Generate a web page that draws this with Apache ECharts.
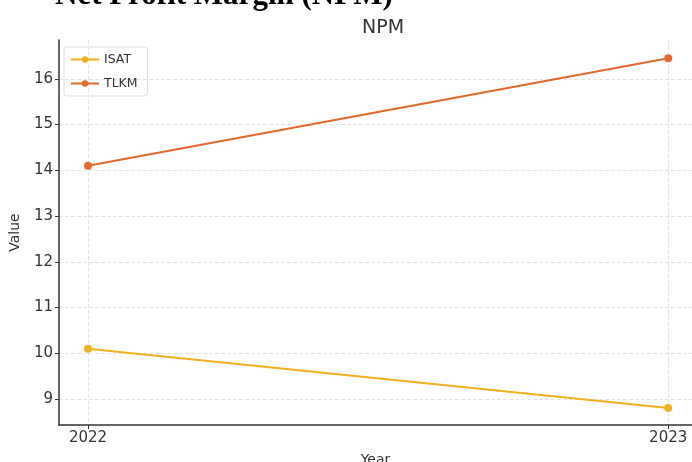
<!DOCTYPE html>
<html>
<head>
<meta charset="utf-8">
<script src="https://cdn.jsdelivr.net/npm/echarts@6/dist/echarts.min.js"></script>
<style>html,body{margin:0;padding:0;background:#fff;}#c{width:692px;height:462px;}</style>
</head>
<body>
<div id="c"></div>
<script>
const years = [2022, 2023];
const isat = [10.1, 8.8];
const tlkm = [14.1, 16.45];
const yTicks = [9, 10, 11, 12, 13, 14, 15, 16];
const seriesNames = ['ISAT', 'TLKM'];
const colors = ['#F2B01E', '#E3692A'];

const chart = echarts.init(document.getElementById('c'), null, {renderer: 'canvas'});
const font = 'DejaVu Sans';
const mk = (name, vals, color) => ({
  name: name,
  type: 'line',
  data: years.map((y, i) => [y, vals[i]]),
  symbol: 'circle',
  symbolSize: 8,
  itemStyle: {color: color},
  lineStyle: {color: color, width: 2},
  animation: false
});
chart.setOption({
  animation: false,
  graphic: [{
    type: 'text', x: 55, y: 11,
    style: {
      text: 'Net Profit Margin (NPM)', fontFamily: 'Liberation Serif', fontSize: 31,
      fontWeight: 'bold', fill: '#000', verticalAlign: 'bottom', align: 'left'
    }
  }],
  title: {
    text: 'NPM', left: 378, top: 14, textAlign: 'center',
    textStyle: {fontFamily: font, fontSize: 19, fontWeight: 'normal', color: '#333'}
  },
  legend: {
    orient: 'vertical', left: 64, top: 47,
    data: seriesNames,
    itemWidth: 28, itemHeight: 8, itemGap: 11,
    padding: [6, 10, 6, 6],
    borderColor: '#ddd', borderWidth: 1, borderRadius: 3,
    textStyle: {fontFamily: font, fontSize: 12.5, color: '#333'}
  },
  grid: {left: 59, right: 0, top: 40, bottom: 37, outerBoundsMode: 'none', containLabel: false},
  xAxis: {
    type: 'value', min: 2021.95, max: 2023.041,
    name: 'Year', nameLocation: 'middle', nameGap: 28,
    nameTextStyle: {fontFamily: font, fontSize: 14, color: '#333'},
    axisLine: {show: true, lineStyle: {color: '#333', width: 1.5}},
    axisTick: {show: true, customValues: years, length: 4, lineStyle: {color: '#333'}},
    axisLabel: {customValues: years, fontFamily: font, fontSize: 15, color: '#333', margin: 6, formatter: v => String(v)},
    splitLine: {show: true, lineStyle: {color: '#e3e3e3', type: 'dashed'}}
  },
  yAxis: {
    type: 'value', min: 8.43, max: 16.85,
    name: 'Value', nameLocation: 'middle', nameGap: 37, nameRotate: 90,
    nameTextStyle: {fontFamily: font, fontSize: 14, color: '#333'},
    axisLine: {show: true, lineStyle: {color: '#333', width: 1.5}},
    axisTick: {show: true, customValues: yTicks, length: 4, lineStyle: {color: '#333'}},
    axisLabel: {customValues: yTicks, fontFamily: font, fontSize: 15, color: '#333', margin: 6},
    splitLine: {show: true, lineStyle: {color: '#e3e3e3', type: 'dashed'}}
  },
  series: [mk('ISAT', isat, colors[0]), mk('TLKM', tlkm, colors[1])]
});
</script>
</body>
</html>
